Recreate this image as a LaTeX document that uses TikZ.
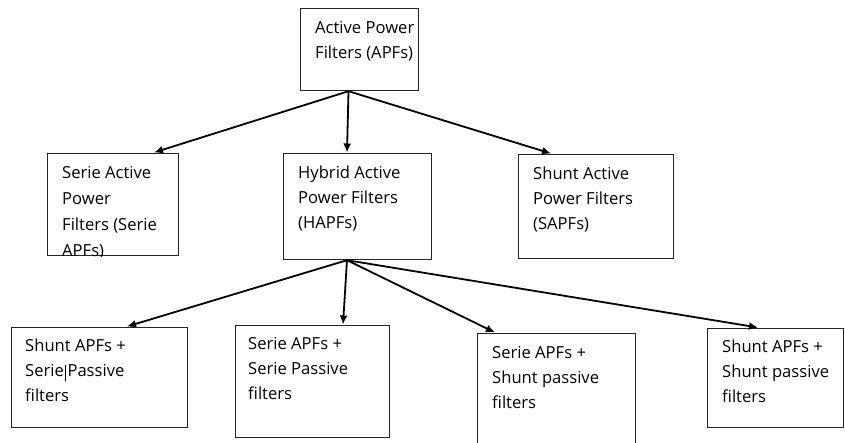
\documentclass[tikz,border=0pt]{standalone}
\usepackage{fontspec}
\setmainfont{Open Sans}
\usetikzlibrary{arrows.meta,calc}
\tikzset{
  box/.style={draw=black!85, line width=1.2pt, inner sep=0pt, anchor=north west},
  txt/.style={anchor=north west, inner sep=0pt, font=\fontsize{16.6}{25}\selectfont, align=left},
  arr/.style={line width=1.8pt, -{Latex[length=9pt,width=8pt]}}
}
\begin{document}
\begin{tikzpicture}[x=1pt,y=-1pt]
\useasboundingbox (0,0) rectangle (845,443);
% boxes
\node[box, minimum width=118pt, minimum height=82pt] (apf) at (300,8) {};
\node[box, minimum width=131pt, minimum height=102pt] (sa) at (47,153) {};
\node[box, minimum width=148pt, minimum height=106pt] (ha) at (283,153) {};
\node[box, minimum width=155pt, minimum height=104pt] (sh) at (518,154) {};
\node[box, minimum width=176pt, minimum height=100pt] (b1) at (11,327) {};
\node[box, minimum width=154pt, minimum height=112pt] (b2) at (235,325) {};
\node[box, minimum width=158pt, minimum height=120pt] (b3) at (477,333) {};
\node[box, minimum width=136pt, minimum height=99pt] (b4) at (707,328) {};
% texts
\node[txt] (t0) at ($(apf.north west)+(15,13)$) {Active Power\\Filters (APFs)};
\begin{scope}
\clip (sa.north west) rectangle (sa.south east);
\node[txt, font=\fontsize{16.6}{26}\selectfont] (t1) at ($(sa.north west)+(15,13)$) {Serie Active\\Power\\Filters (Serie\\APFs)};
\end{scope}
\node[txt] (t2) at ($(ha.north west)+(15,13)$) {Hybrid Active\\Power Filters\\(HAPFs)};
\node[txt] (t3) at ($(sh.north west)+(15,13)$) {Shunt Active\\Power Filters\\(SAPFs)};
\node[txt] (t4) at ($(b1.north west)+(14,12)$) {Shunt APFs +\\Serie{\kern1.5pt\vrule width 0.6pt height 12pt depth 4pt\kern1.5pt}Passive\\filters};
\node[txt] (t5) at ($(b2.north west)+(13,12)$) {Serie APFs +\\Serie Passive\\filters};
\node[txt] (t6) at ($(b3.north west)+(15,13)$) {Serie APFs +\\Shunt passive\\filters};
\node[txt] (t7) at ($(b4.north west)+(15,12)$) {Shunt APFs +\\Shunt passive\\filters};
% connectors
\coordinate (s0) at ($(apf.south west)+(48.5,0)$);
\coordinate (s1) at ($(ha.south west)+(64,0)$);
\draw[arr] (s0) -- ($(sa.north west)+(107,-0.5)$);
\draw[arr] (s0) -- ($(ha.north west)+(64,-0.5)$);
\draw[arr] (s0) -- ($(sh.north west)+(33,-0.5)$);
\draw[arr] (s1) -- ($(b1.north west)+(116,-0.5)$);
\draw[arr] (s1) -- ($(b2.north west)+(108,-0.5)$);
\draw[arr] (s1) -- ($(b3.north west)+(18,-0.5)$);
\draw[arr] (s1) -- ($(b4.north west)+(51,-0.5)$);
\end{tikzpicture}
\end{document}
